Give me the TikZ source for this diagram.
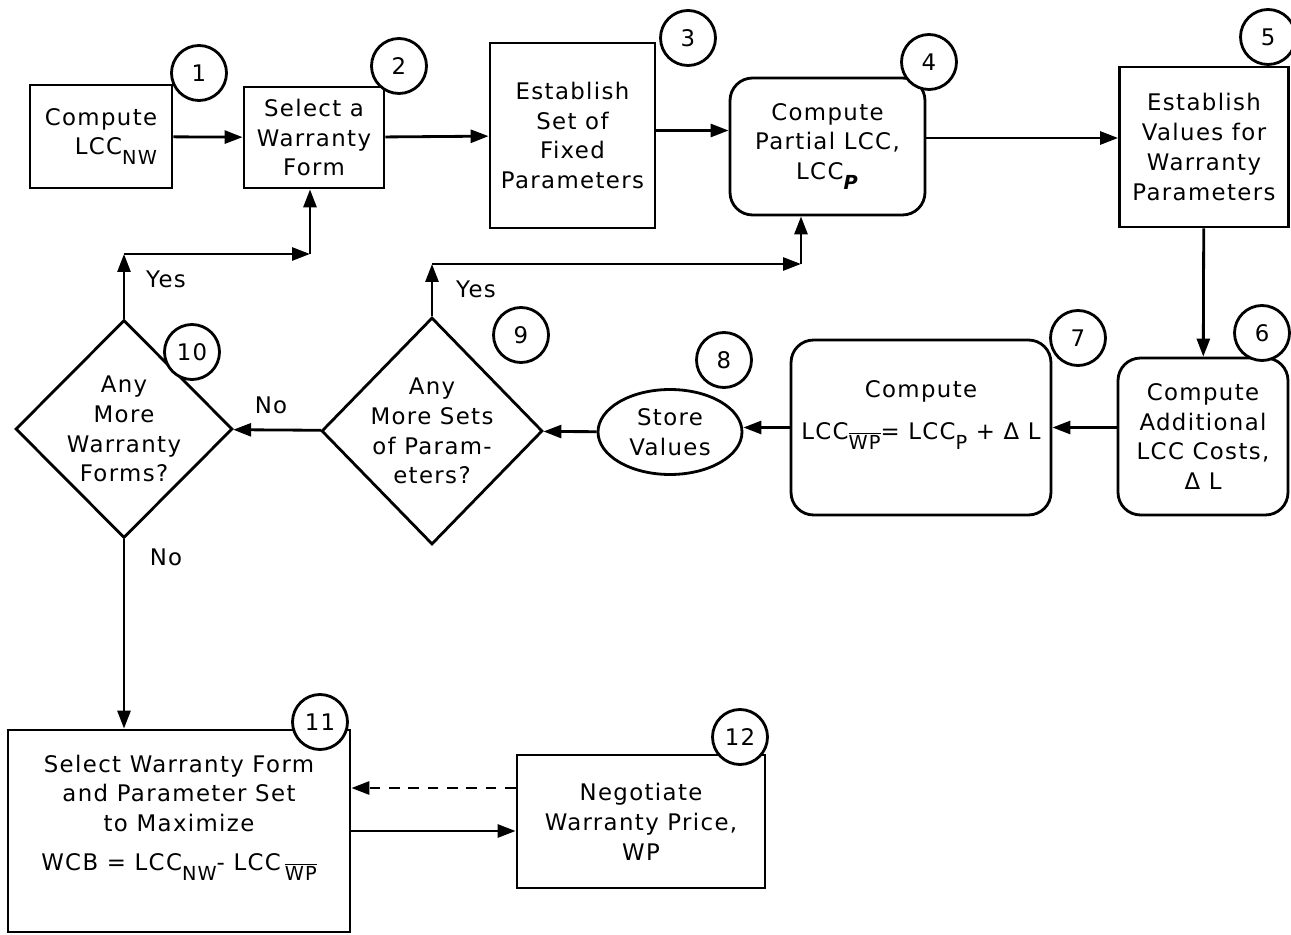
\documentclass[tikz,border=0pt]{standalone}
\usepackage{fontspec}
\setmainfont{DejaVu Sans}[LetterSpace=6]
\usetikzlibrary{arrows.meta,shapes.geometric}
\newcommand{\lsub}[1]{\raisebox{-0.8ex}{\fontsize{11}{13}\selectfont #1}}
\begin{document}
\begin{tikzpicture}[>={Triangle[length=0.36cm,width=0.26cm]}, font=\fontsize{13}{17}\selectfont, x=0.02cm, y=-0.02cm, line width=1.6pt]
    \tikzset{box/.style={draw, align=center, inner sep=2pt},
             rbox/.style={box, rounded corners=0.45cm},
             ask/.style={draw, diamond, aspect=1, inner sep=-14pt, align=center},
             num/.style={draw, circle, fill=white, minimum size=1.1cm, inner sep=0pt}}
    \useasboundingbox (0,0) rectangle (1291,935);
    % top row
    \node[box, minimum width=2.84cm, minimum height=2.06cm, align=left] (compute) at (101,136.5) {Compute\\\hspace*{0.6cm}LCC\lsub{NW}};
    \node[box, minimum width=2.8cm, minimum height=2.02cm] (select) at (314,137.5) {Select a\\Warranty\\Form};
    \node[box, minimum width=3.3cm, minimum height=3.7cm] (fixed) at (572.5,135.5) {Establish\\Set of\\Fixed\\Parameters};
    \node[rbox, minimum width=3.9cm, minimum height=2.74cm] (partial) at (827.5,146.5) {Compute\\Partial LCC,\\LCC\lsub{\textit{\textbf{P}}}};
    \node[box, minimum width=3.38cm, minimum height=3.2cm] (values) at (1204,147) {Establish\\Values for\\Warranty\\Parameters};
    % middle row
    \node[rbox, minimum width=3.4cm, minimum height=3.14cm] (additional) at (1203,436.5) {Compute\\Additional\\LCC Costs,\\Δ L};
    \node[rbox, minimum width=5.2cm, minimum height=3.5cm] (lccwp) at (921,427.5) {Compute\\[0.25cm]LCC\lsub{$\overline{\mbox{WP}}$}= LCC\lsub{P} + Δ L\\[0.1cm]};
    \node[draw, ellipse, minimum width=2.88cm, minimum height=1.7cm, inner sep=0pt, align=center] (store) at (670,432) {Store\\Values};
    \node[ask, minimum width=4.42cm, minimum height=4.54cm] (moresets) at (432,431) {Any\\More Sets\\of Param-\\eters?};
    \node[ask, minimum width=4.34cm, minimum height=4.36cm] (moreforms) at (124,429) {Any\\More\\Warranty\\Forms?};
    % bottom row
    \node[box, minimum width=6.84cm, minimum height=4.04cm] (maximize) at (179,831) {Select Warranty Form\\and Parameter Set\\to Maximize\\[5pt]WCB = LCC\lsub{NW}- LCC\,\lsub{$\overline{\mbox{WP}}$}\\[0.14cm]};
    \node[box, minimum width=4.96cm, minimum height=2.66cm] (negotiate) at (641,821.5) {Negotiate\\Warranty Price,\\WP};
    % step numbers
    \foreach \i/\p in {1/{199,73}, 2/{399,66}, 3/{688,38}, 4/{929,62}, 5/{1268,37}, 6/{1262,333},
                       7/{1078,338}, 8/{724,360}, 9/{521,335}, 10/{192,352}, 11/{320,722}, 12/{740,737}}
        \node[num] (n\i) at (\p) {\i};
    % branch points
    \coordinate (yes10) at (124,254);
    \coordinate (up10) at (310,254);
    \coordinate (yes9) at (432,264);
    \coordinate (up9) at (801,264);
    \node (yeslab10) at (166,279) {Yes};
    \node (yeslab9) at (476,289) {Yes};
    \node (nolab9) at (271,405) {No};
    \node (nolab10) at (166,557) {No};
    % connectors
    \draw[->] (compute) -- (select);
    \draw[->] (select) -- (fixed);
    \draw[->] ([yshift=0.1cm]fixed.east) -- ([yshift=0.1cm]fixed.east -| partial.west);
    \draw[->] ([yshift=0.17cm]partial.east) -- ([yshift=0.17cm]partial.east -| values.west);
    \draw[->] (values) -- (additional);
    \draw[->] (lccwp.east -| additional.west) -- (lccwp.east);
    \draw[->] (lccwp.west) -- (lccwp.west -| store.east);
    \draw[->] (store) -- (moresets);
    \draw[->] (moresets) -- (moreforms);
    \draw[->] (moresets.north) -- (yes9);
    \draw[->] (yes9) -- (up9);
    \draw[->] (up9) -- (up9 |- partial.south);
    \draw[->] (moreforms.north) -- (yes10);
    \draw[->] (yes10) -- (up10);
    \draw[->] (up10) -- (up10 |- select.south);
    \draw[->] (moreforms.south) -- (moreforms.south |- maximize.north);
    \draw[->] (maximize.east) -- (maximize.east -| negotiate.west);
    \draw[->, dash pattern=on 6pt off 5pt] ([yshift=0.67cm]negotiate.west) -- ([yshift=0.67cm]negotiate.west -| maximize.east);
\end{tikzpicture}
\end{document}
